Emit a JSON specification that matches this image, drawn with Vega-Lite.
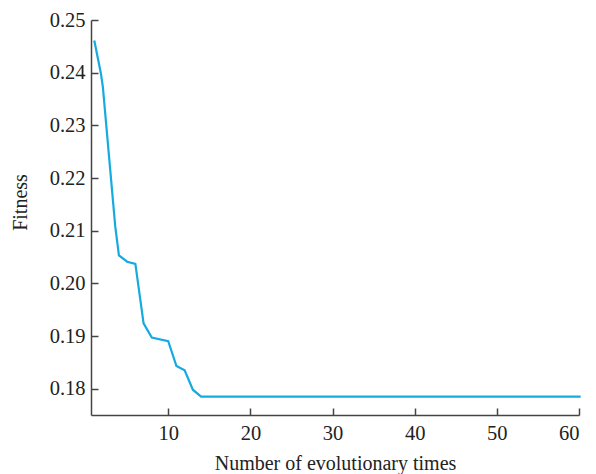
{
  "$schema": "https://vega.github.io/schema/vega-lite/v6.json",
  "width": 488,
  "height": 395,
  "autosize": "none",
  "padding": {"left": 91, "top": 20, "right": 17, "bottom": 59},
  "background": "white",
  "config": {
    "view": {"stroke": null},
    "axis": {
      "labelFont": "Liberation Serif",
      "titleFont": "Liberation Serif",
      "labelFontSize": 20.5,
      "titleFontSize": 20,
      "titleFontWeight": "normal",
      "labelColor": "#222",
      "titleColor": "#222",
      "domainColor": "#444",
      "tickColor": "#444",
      "domainWidth": 1.5,
      "tickWidth": 1.5,
      "grid": false
    }
  },
  "data": {
    "values": [
      {"gen": 1, "fitness": 0.2461},
      {"gen": 1.8, "fitness": 0.2399},
      {"gen": 2.05, "fitness": 0.2372},
      {"gen": 2.8, "fitness": 0.2240},
      {"gen": 3.55, "fitness": 0.2108},
      {"gen": 4, "fitness": 0.2053},
      {"gen": 5, "fitness": 0.2041},
      {"gen": 6, "fitness": 0.2037},
      {"gen": 7, "fitness": 0.1924},
      {"gen": 8, "fitness": 0.1897},
      {"gen": 10, "fitness": 0.1890},
      {"gen": 11, "fitness": 0.1843},
      {"gen": 12, "fitness": 0.1835},
      {"gen": 13, "fitness": 0.1798},
      {"gen": 14, "fitness": 0.1785},
      {"gen": 20, "fitness": 0.1785},
      {"gen": 30, "fitness": 0.1785},
      {"gen": 40, "fitness": 0.1785},
      {"gen": 50, "fitness": 0.1785},
      {"gen": 60.2, "fitness": 0.1785}
    ]
  },
  "mark": {"type": "line", "color": "#16ABE0", "strokeWidth": 2.2, "clip": false},
  "encoding": {
    "x": {
      "field": "gen",
      "type": "quantitative",
      "scale": {"domain": [0.6, 60], "nice": false, "zero": false},
      "axis": {
        "title": "Number of evolutionary times",
        "values": [10, 20, 30, 40, 50, 60],
        "tickSize": -7,
        "labelPadding": 15,
        "titlePadding": 10
      }
    },
    "y": {
      "field": "fitness",
      "type": "quantitative",
      "scale": {"domain": [0.175, 0.25], "nice": false, "zero": false},
      "axis": {
        "title": "Fitness",
        "values": [0.18, 0.19, 0.2, 0.21, 0.22, 0.23, 0.24, 0.25],
        "format": ".2f",
        "tickSize": -7,
        "labelPadding": 13,
        "titlePadding": 19,
        "titleY": 182
      }
    }
  }
}
